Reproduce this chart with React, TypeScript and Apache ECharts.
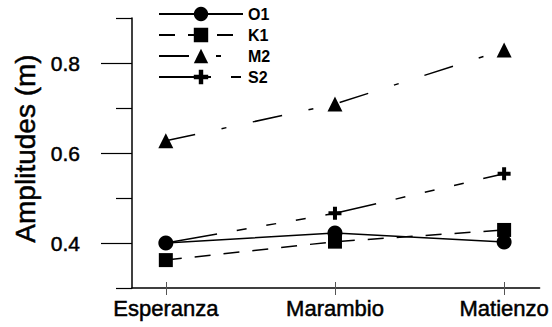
import React, { useEffect, useRef } from "react";
import * as echarts from "echarts";

const categories = ["Esperanza", "Marambio", "Matienzo"];
const seriesNames = ["O1", "K1", "M2", "S2"];
const o1Values = [0.4, 0.422, 0.402];
const k1Values = [0.362, 0.403, 0.429];
const m2Values = [0.627, 0.709, 0.829];
const s2Values = [0.4, 0.466, 0.554];
const yMajorTicks = [0.4, 0.6, 0.8];
const yMinorTicks = [0.3, 0.5, 0.7, 0.9];
const yTitle = "Amplitudes (m)";

const FONT = '"Liberation Sans", Arial, Helvetica, sans-serif';
const PLUS = "path://M4.5,0H8.5V4.5H13V8.5H8.5V13H4.5V8.5H0V4.5H4.5Z";

const toPoints = (vals: number[]) => vals.map((v, i) => [i, v]);

export default function App() {
  const ref = useRef<HTMLDivElement>(null);
  useEffect(() => {
    if (!ref.current) return;
    const chart = echarts.init(ref.current, null, { renderer: "svg" });
    const idx = categories.map((_, i) => i);
    const mk = (name: string, vals: number[], symbol: string, size: number, dash: any, z: number) => ({
      name,
      type: "line",
      data: toPoints(vals),
      symbol,
      symbolSize: size,
      showSymbol: true,
      z,
      lineStyle: { color: "#000", width: 1.5, type: dash },
      itemStyle: { color: "#000", borderWidth: 0 },
      emphasis: { disabled: true },
    });
    const heavy = { textBorderColor: "#000", textBorderWidth: 0.5 };
    chart.setOption({
      animation: false,
      backgroundColor: "#fff",
      textStyle: { fontFamily: FONT },
      grid: { left: 132, right: 10, top: 18, bottom: 39, containLabel: false },
      legend: {
        orient: "vertical",
        left: 158,
        top: 6,
        padding: 0,
        itemWidth: 84,
        itemHeight: 18,
        itemGap: 5,
        selectedMode: false,
        data: seriesNames,
        textStyle: { fontSize: 16, fontWeight: "bold", color: "#000", fontFamily: FONT },
      },
      xAxis: [
        {
          type: "value",
          position: "bottom",
          min: -0.2,
          max: 2.21,
          axisLine: { show: true, onZero: false, lineStyle: { color: "#000", width: 1.5 } },
          axisTick: { show: true, customValues: idx, length: 7, inside: false, lineStyle: { color: "#555", width: 1 } },
          axisLabel: {
            customValues: idx,
            formatter: (v: number) => categories[Math.round(v)] ?? "",
            fontSize: 22,
            color: "#000",
            margin: 9,
            fontFamily: FONT,
            ...heavy,
          },
          splitLine: { show: false },
        },
        {
          type: "value",
          position: "bottom",
          min: -0.2,
          max: 2.21,
          axisLine: { show: false, onZero: false },
          axisTick: { show: true, customValues: idx, length: 6, inside: true, lineStyle: { color: "#555", width: 1 } },
          axisLabel: { show: false },
          splitLine: { show: false },
        },
      ],
      yAxis: [
        {
          type: "value",
          position: "left",
          min: 0.3,
          max: 0.9,
          axisLine: { show: true, onZero: false, lineStyle: { color: "#000", width: 1.5 } },
          axisTick: { show: true, customValues: yMajorTicks, length: 31, lineStyle: { color: "#000", width: 1.2 } },
          axisLabel: {
            customValues: yMajorTicks,
            formatter: (v: number) => v.toFixed(1),
            fontSize: 21,
            color: "#000",
            margin: 52,
            fontFamily: FONT,
            ...heavy,
          },
          splitLine: { show: false },
        },
        {
          type: "value",
          position: "left",
          min: 0.3,
          max: 0.9,
          axisLine: { show: false, onZero: false },
          axisTick: { show: true, customValues: yMinorTicks, length: 16, lineStyle: { color: "#000", width: 1.2 } },
          axisLabel: { show: false },
          splitLine: { show: false },
        },
      ],
      graphic: [
        {
          type: "text",
          x: 25.5,
          y: 148.5,
          rotation: Math.PI / 2,
          style: {
            text: yTitle,
            fill: "#000",
            stroke: "#000",
            lineWidth: 0.5,
            font: `28px ${FONT}`,
            textAlign: "center",
            textVerticalAlign: "middle",
          },
        },
      ],
      series: [
        mk("O1", o1Values, "circle", 15, "solid", 6),
        mk("K1", k1Values, "rect", 14, [16, 13], 4),
        mk("M2", m2Values, "triangle", 15, [30, 27, 5, 27], 3),
        mk("S2", s2Values, PLUS, 13, [52, 20, 10, 20, 10, 20, 10, 20], 2),
      ],
    });
    return () => chart.dispose();
  }, []);
  return (
    <div
      ref={ref}
      style={{ position: "fixed", left: 0, top: 0, width: 552, height: 327, background: "#fff" }}
    />
  );
}
